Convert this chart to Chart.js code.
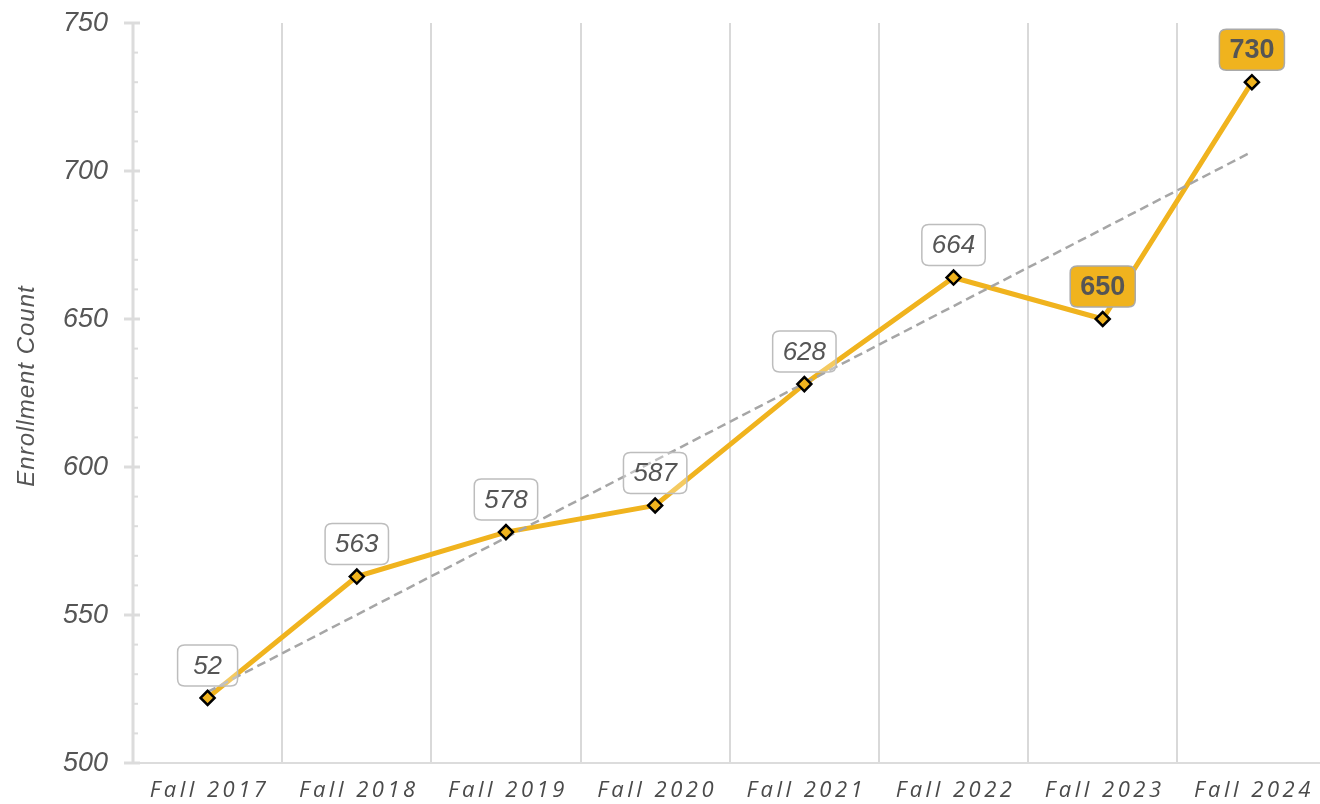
<!DOCTYPE html>
<html>
<head>
<meta charset="utf-8">
<script src="https://cdn.jsdelivr.net/npm/chart.js@4"></script>
<style>
    body { margin: 0; background: #fff; overflow: hidden; }
    #wrap { width: 1320px; height: 804px; overflow: hidden; }
</style>
</head>
<body>
<div id="wrap"><canvas id="enrollChart" width="1336" height="804"></canvas></div>
<script>
// chart data
const terms = ['Fall 2017', 'Fall 2018', 'Fall 2019', 'Fall 2020', 'Fall 2021', 'Fall 2022', 'Fall 2023', 'Fall 2024'];
const enrollment = [522, 563, 578, 587, 628, 664, 650, 730];
const labelTexts = ['52', '563', '578', '587', '628', '664', '650', '730'];
const highlighted = [false, false, false, false, false, false, true, true];
const trendValues = [524, null, null, null, null, null, null, 706.5];
const yTicks = [500, 550, 600, 650, 700, 750];

const gold = '#F0B31E';
const textGray = '#555555';

// y axis line, tick marks and labels, axis title, x labels
const axisPlugin = {
    id: 'axisPlugin',
    afterDraw(chart) {
        const ctx = chart.ctx;
        const y = chart.scales.y;
        const x = chart.scales.x;
        const area = chart.chartArea;
        ctx.save();
        ctx.strokeStyle = '#dcdcdc';
        ctx.lineWidth = 3;
        ctx.beginPath();
        ctx.moveTo(area.left, area.top);
        ctx.lineTo(area.left, area.bottom);
        ctx.stroke();
        // minor ticks
        ctx.lineWidth = 2;
        for (let v = y.min; v <= y.max; v += 10) {
            const py = y.getPixelForValue(v);
            ctx.beginPath();
            ctx.moveTo(area.left, py);
            ctx.lineTo(area.left + 5, py);
            ctx.stroke();
        }
        // major ticks + labels
        ctx.lineWidth = 3;
        ctx.fillStyle = textGray;
        ctx.font = 'italic 27px "Liberation Sans"';
        ctx.textAlign = 'right';
        ctx.textBaseline = 'middle';
        yTicks.forEach(v => {
            const py = y.getPixelForValue(v);
            ctx.beginPath();
            ctx.moveTo(area.left - 9, py);
            ctx.lineTo(area.left + 7, py);
            ctx.stroke();
            ctx.fillText(String(v), area.left - 25, py);
        });
        // y title
        ctx.save();
        ctx.translate(27, 386);
        ctx.rotate(-Math.PI / 2);
        ctx.textAlign = 'center';
        ctx.font = 'italic 24px "Liberation Sans"';
        ctx.letterSpacing = '1px';
        ctx.fillText('Enrollment Count', 0, 0);
        ctx.restore();
        // x labels
        ctx.font = 'italic 22px "Open Sans"';
        ctx.letterSpacing = '3.5px';
        ctx.textAlign = 'center';
        ctx.fillStyle = '#4a4a4a';
        terms.forEach((t, i) => {
            ctx.fillText(t, x.getPixelForValue(i) + 2, area.bottom + 28);
        });
        ctx.restore();
    }
};

function roundRect(ctx, x, y, w, h, r) {
    ctx.beginPath();
    ctx.moveTo(x + r, y);
    ctx.lineTo(x + w - r, y);
    ctx.quadraticCurveTo(x + w, y, x + w, y + r);
    ctx.lineTo(x + w, y + h - r);
    ctx.quadraticCurveTo(x + w, y + h, x + w - r, y + h);
    ctx.lineTo(x + r, y + h);
    ctx.quadraticCurveTo(x, y + h, x, y + h - r);
    ctx.lineTo(x, y + r);
    ctx.quadraticCurveTo(x, y, x + r, y);
    ctx.closePath();
}

// boxed value labels above points
const labelPlugin = {
    id: 'labelPlugin',
    afterDatasetsDraw(chart) {
        const ctx = chart.ctx;
        const meta = chart.getDatasetMeta(2);
        ctx.save();
        meta.data.forEach((pt, i) => {
            const hi = highlighted[i];
            ctx.font = hi ? 'bold 27px "Liberation Sans"' : 'italic 26px "Liberation Sans"';
            const tw = ctx.measureText(labelTexts[i]).width;
            const w = Math.max(tw + 20, 60);
            const h = 41;
            const bx = pt.x - w / 2;
            const by = pt.y - 12 - h;
            roundRect(ctx, bx, by, w, h, 7);
            ctx.fillStyle = hi ? gold : 'rgba(255,255,255,0.3)';
            ctx.fill();
            ctx.strokeStyle = hi ? '#aaaaaa' : '#bdbdbd';
            ctx.lineWidth = 1.5;
            ctx.stroke();
            ctx.fillStyle = textGray;
            ctx.textAlign = 'center';
            ctx.textBaseline = 'middle';
            ctx.fillText(labelTexts[i], pt.x, by + h / 2 + 1);
        });
        ctx.restore();
    }
};

const ctx = document.getElementById('enrollChart').getContext('2d');
new Chart(ctx, {
    type: 'line',
    data: {
        labels: terms,
        datasets: [
            {
                label: 'Enrollment',
                data: enrollment,
                borderColor: gold,
                borderWidth: 5,
                pointRadius: 0,
                tension: 0,
                order: 3
            },
            {
                label: 'Trend',
                data: trendValues,
                spanGaps: true,
                borderColor: '#a6a6a6',
                borderWidth: 2.5,
                borderDash: [9, 5],
                pointRadius: 0,
                order: 2
            },
            {
                label: 'Points',
                data: enrollment,
                showLine: false,
                pointStyle: 'rectRot',
                pointRadius: 7,
                pointBorderWidth: 2.5,
                pointBorderColor: '#000000',
                pointBackgroundColor: gold,
                order: 1
            }
        ]
    },
    options: {
        responsive: false,
        animation: false,
        layout: {
            padding: { left: 125, right: 3, top: 23, bottom: 41 }
        },
        scales: {
            x: {
                offset: true,
                grid: { display: true, offset: true, color: '#d9d9d9', lineWidth: 2, drawTicks: false },
                border: { display: true, color: '#dcdcdc', width: 2 },
                ticks: { display: false }
            },
            y: {
                min: 500,
                max: 750,
                grid: { display: false },
                border: { display: false },
                ticks: { display: false }
            }
        },
        plugins: {
            legend: { display: false },
            tooltip: { enabled: false }
        }
    },
    plugins: [axisPlugin, labelPlugin]
});
</script>
</body>
</html>
